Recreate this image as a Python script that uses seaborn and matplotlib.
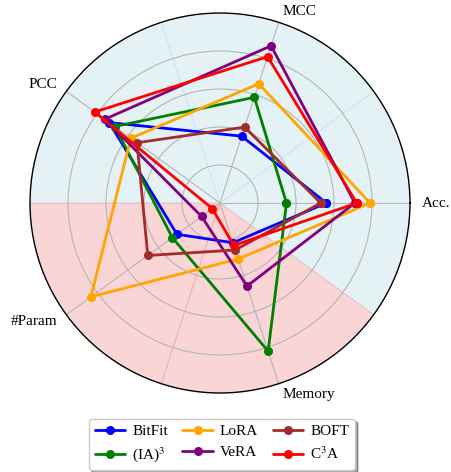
import numpy as np
import matplotlib
matplotlib.use("Agg")
import matplotlib.pyplot as plt
import seaborn as sns

# Metrics (normalised scores, 0 = centre, 1 = outer ring)
categories = ["Acc.", "MCC", "PCC", "#Param", "Memory"]
methods = ["BitFit", "(IA)$^3$", "LoRA", "VeRA", "BOFT", "C$^3$A"]
bitfit = [0.56, 0.37, 0.72, 0.28, 0.22]
ia3 = [0.35, 0.585, 0.685, 0.31, 0.82]
lora = [0.79, 0.66, 0.58, 0.84, 0.31]
vera = [0.71, 0.87, 0.75, 0.12, 0.46]
boft = [0.53, 0.42, 0.54, 0.47, 0.26]
c3a = [0.72, 0.81, 0.815, 0.05, 0.235]
series = [bitfit, ia3, lora, vera, boft, c3a]
colors = ["blue", "green", "orange", "purple", "brown", "red"]
# performance metrics shaded blue, cost metrics shaded red
sector_colors = ["lightblue", "lightblue", "lightblue", "lightcoral", "lightcoral"]

sns.set_style("white")
plt.rcParams["font.family"] = ["Liberation Serif", "DejaVu Serif"]
plt.rcParams["mathtext.fontset"] = "stix"
plt.rcParams["text.color"] = "black"
plt.rcParams["legend.labelcolor"] = "black"

fig = plt.figure(figsize=(4.51, 4.72), dpi=100)
ax = fig.add_axes([0.0665, 0.1674, 0.8426, 0.805], projection="polar")

n = len(categories)
angles = np.linspace(0, 2 * np.pi, n, endpoint=False)

# background sectors
ax.bar(angles, [1.0] * n, width=2 * np.pi / n, color=sector_colors, alpha=0.33,
       edgecolor=sector_colors, linewidth=0.6, zorder=0)

closed = np.concatenate([angles, angles[:1]])
for name, vals, c in zip(methods, series, colors):
    r = list(vals) + [vals[0]]
    sns.lineplot(x=closed, y=r, ax=ax, sort=False, estimator=None, color=c,
                 linewidth=2.0, marker="o", markersize=6.5, markeredgewidth=0,
                 label=name, zorder=3)

ax.set_ylim(0, 1)
ax.set_yticks([0.2, 0.4, 0.6, 0.8])
ax.set_yticklabels([])
ax.set_xticks(angles)
ax.set_xticklabels([])
ax.grid(True, color="#b5b5b5", linewidth=0.8)
ax.spines["polar"].set_color("black")
ax.spines["polar"].set_linewidth(1.0)
ax.tick_params(length=0)

for a, lab in zip(angles, categories):
    ha = "left" if np.cos(a) > 0.01 else ("right" if np.cos(a) < -0.01 else "center")
    ax.text(a, 1.06, lab, ha=ha, va="center", fontsize=11, color="black",
            clip_on=False)

leg = ax.legend(loc="upper center", bbox_to_anchor=(0.492, 0.113),
                bbox_transform=fig.transFigure, ncol=3, fontsize=11,
                frameon=True, fancybox=True, shadow=True, borderaxespad=0,
                handlelength=2.0, columnspacing=0.95, handletextpad=0.45,
                labelspacing=0.45)
leg.get_frame().set_edgecolor("#cccccc")

fig.savefig("out.png", dpi=100)
